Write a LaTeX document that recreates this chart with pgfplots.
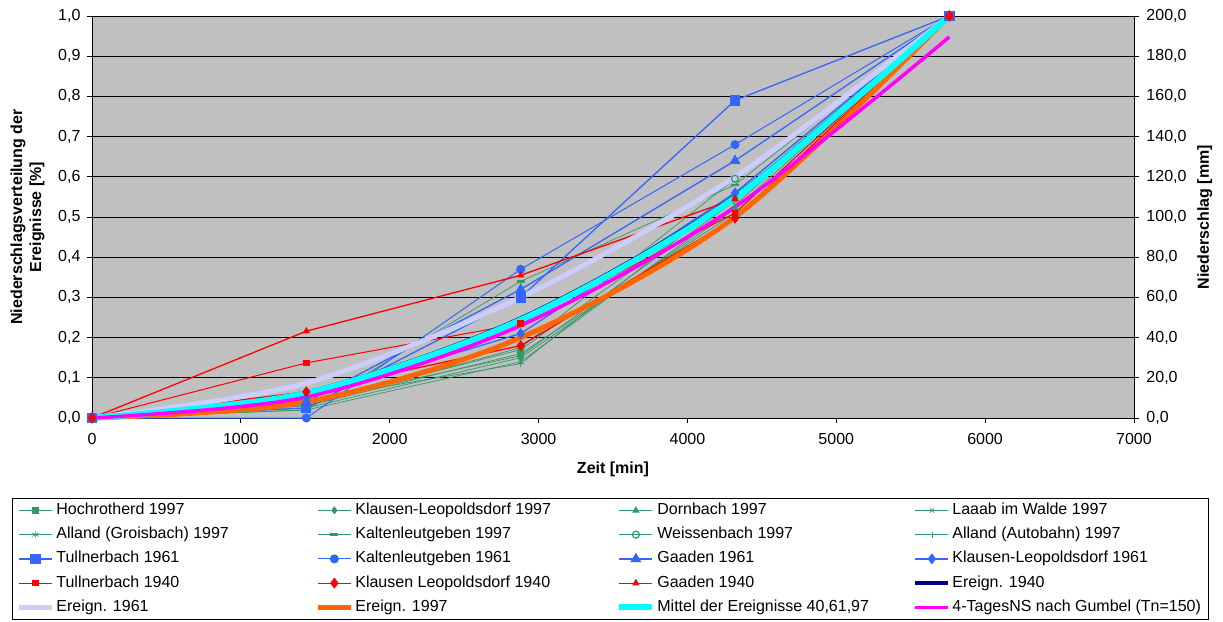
\documentclass[border=0pt]{standalone}
\usepackage{fontspec}
\setmainfont{Liberation Sans}
\usepackage{pgfplots}
\pgfplotsset{compat=1.18}
\definecolor{bg}{HTML}{C0C0C0}
\definecolor{sgreen}{HTML}{339966}
\definecolor{xblue}{HTML}{3366FF}
\definecolor{lav}{HTML}{CCCCFF}
\definecolor{xorange}{HTML}{FF6600}
\definecolor{xnavy}{HTML}{000080}
\definecolor{xcyan}{HTML}{00FFFF}
\definecolor{xmag}{HTML}{FF00FF}
\definecolor{xred}{HTML}{FF0000}
\newcommand\fs{\fontsize{16}{19}\selectfont}
\newcommand\Ca[1]{\makebox[257pt][l]{#1}}
\newcommand\Cb[1]{\makebox[259pt][l]{#1}}
\newcommand\Cc[1]{\makebox[254pt][l]{#1}}
\newcommand\Cd[1]{\makebox[250pt][l]{#1}}
\begin{document}
\begin{tikzpicture}
\path[use as bounding box] (-92pt,-203pt) rectangle (1131pt,418pt);
\begin{axis}[
  scale only axis, width=1042pt, height=402pt,
  xmin=0, xmax=7000, ymin=0, ymax=1,
  axis background/.style={fill=bg},
  axis x line*=bottom, axis y line*=left,
  axis line style={black, line width=0.8pt},
  xtick={0,1000,2000,3000,4000,5000,6000,7000},
  ytick={0,0.1,0.2,0.3,0.4,0.5,0.6,0.7,0.8,0.9,1.0},
  tick align=outside, major tick length=5pt,
  tick style={black, line width=0.8pt},
  ymajorgrids, grid style={black, line width=0.8pt},
  clip=false,
  tick label style={font=\fs},
  xticklabel style={/pgf/number format/.cd, 1000 sep={}, assume math mode=true, /tikz/.cd, yshift=-7pt},
  yticklabel style={/pgf/number format/.cd, fixed, fixed zerofill, precision=1, use comma, assume math mode=true, /tikz/.cd, xshift=-3pt},
  xlabel={Zeit [min]},
  xlabel style={font=\fs\bfseries, at={(axis description cs:0.5,-0.129)}, anchor=center},
  ylabel={Niederschlagsverteilung der\\Ereignisse [\%]},
  ylabel style={font=\fs\bfseries, align=center, at={(axis description cs:-0.062,0.5)}, anchor=center},
  legend columns=4,
  legend image code/.code={\draw[mark repeat=2,mark phase=2,#1] plot coordinates {(0pt,0pt) (16.5pt,0pt) (33pt,0pt)};},
  legend style={at={(axis description cs:-0.0768,-0.199)}, anchor=north west,
    draw=black, line width=0.8pt, fill=white, inner xsep=4pt, inner ysep=2pt,
    row sep=4.25pt, column sep=0pt, font=\fs,
    nodes={inner sep=2pt, text height=12pt, text depth=4pt}},
  legend cell align=left,
]
% 1997 green
\addplot[sgreen, line width=0.7pt, mark=square*, mark size=3pt] coordinates {(0,0) (1440,0.03) (2880,0.16) (4320,0.51) (5760,1)};
\addlegendentry{\Ca{Hochrotherd 1997}}
\addplot[sgreen, line width=0.7pt, mark=diamond*, mark size=3.5pt] coordinates {(0,0) (1440,0.025) (2880,0.15) (4320,0.52) (5760,1)};
\addlegendentry{\Cb{Klausen-Leopoldsdorf 1997}}
\addplot[sgreen, line width=0.7pt, mark=triangle*, mark size=3.5pt] coordinates {(0,0) (1440,0.035) (2880,0.17) (4320,0.55) (5760,1)};
\addlegendentry{\Cc{Dornbach 1997}}
\addplot[sgreen, line width=0.7pt, mark=x, mark size=3pt] coordinates {(0,0) (1440,0.02) (2880,0.14) (4320,0.53) (5760,1)};
\addlegendentry{\Cd{Laaab im Walde 1997}}
\addplot[sgreen, line width=0.7pt, mark=asterisk, mark size=3.5pt] coordinates {(0,0) (1440,0.04) (2880,0.155) (4320,0.54) (5760,1)};
\addlegendentry{\Ca{Alland (Groisbach) 1997}}
\addplot[sgreen, line width=0.7pt, mark=-, mark size=4pt, mark options={line width=2.5pt}] coordinates {(0,0) (1440,0.02) (2880,0.34) (4320,0.58) (5760,1)};
\addlegendentry{\Cb{Kaltenleutgeben 1997}}
\addplot[sgreen, line width=0.7pt, mark=o, mark size=3.5pt, mark options={line width=1.2pt}] coordinates {(0,0) (1440,0.03) (2880,0.175) (4320,0.595) (5760,1)};
\addlegendentry{\Cc{Weissenbach 1997}}
\addplot[sgreen, line width=0.7pt, mark=+, mark size=3pt] coordinates {(0,0) (1440,0.045) (2880,0.135) (4320,0.56) (5760,1)};
\addlegendentry{\Cd{Alland (Autobahn) 1997}}
% 1961 blue
\addplot[xblue, line width=1.3pt, mark=square*, mark size=4.5pt] coordinates {(0,0) (1440,0.025) (2880,0.30) (4320,0.79) (5760,1)};
\addlegendentry{\Ca{Tullnerbach 1961}}
\addplot[xblue, line width=1pt, mark=*, mark size=4pt] coordinates {(0,0) (1440,0.0) (2880,0.37) (4320,0.68) (5760,1)};
\addlegendentry{\Cb{Kaltenleutgeben 1961}}
\addplot[xblue, line width=1.3pt, mark=triangle*, mark size=5pt] coordinates {(0,0) (1440,0.04) (2880,0.32) (4320,0.64) (5760,1)};
\addlegendentry{\Cc{Gaaden 1961}}
\addplot[xblue, line width=1.3pt, mark=diamond*, mark size=4.5pt] coordinates {(0,0) (1440,0.05) (2880,0.21) (4320,0.56) (5760,1)};
\addlegendentry{\Cd{Klausen-Leopoldsdorf 1961}}
% 1940 red
\addplot[xred, line width=1pt, mark=square*, mark size=2.8pt] coordinates {(0,0) (1440,0.137) (2880,0.235) (4320,0.51) (5760,1)};
\addlegendentry{\Ca{Tullnerbach 1940}}
\addplot[xred, line width=1.3pt, mark=diamond*, mark size=4.5pt] coordinates {(0,0) (1440,0.065) (2880,0.18) (4320,0.497) (5760,1)};
\addlegendentry{\Cb{Klausen Leopoldsdorf 1940}}
\addplot[xred, line width=1.3pt, mark=triangle*, mark size=3pt] coordinates {(0,0) (1440,0.216) (2880,0.355) (4320,0.545) (5760,1)};
\addlegendentry{\Cc{Gaaden 1940}}
% events
\addplot[xnavy, line width=4pt, smooth] coordinates {(0,0) (1440,0.064) (2880,0.248) (4320,0.552) (5760,1)};
\addlegendentry{\Cd{Ereign. 1940}}
\addplot[lav, line width=5pt, smooth] coordinates {(0,0) (1440,0.087) (2880,0.30) (4320,0.60) (5760,1)};
\addlegendentry{\Ca{Ereign. 1961}}
\addplot[xorange, line width=5pt, smooth] coordinates {(0,0) (1440,0.04) (2880,0.20) (4320,0.50) (5760,1)};
\addlegendentry{\Cb{Ereign. 1997}}
\addplot[xcyan, line width=6pt, smooth] coordinates {(0,0) (1440,0.062) (2880,0.244) (4320,0.548) (5760,1)};
\addlegendentry{\Cc{Mittel der Ereignisse 40,61,97}}
\addplot[xmag, line width=3.5pt, smooth] coordinates {(0,0) (1440,0.052) (2880,0.23) (4320,0.525) (5760,0.948)};
\addlegendentry{\Cd{4-TagesNS nach Gumbel (Tn=150)}}
\end{axis}
\begin{axis}[
  scale only axis, width=1042pt, height=402pt,
  xmin=0, xmax=7000, ymin=0, ymax=200,
  axis x line=none, axis y line*=right,
  axis line style={black, line width=0.8pt},
  ytick={0,20,40,60,80,100,120,140,160,180,200},
  tick align=outside, major tick length=5pt,
  tick style={black, line width=0.8pt},
  tick label style={font=\fs},
  yticklabel style={/pgf/number format/.cd, fixed, fixed zerofill, precision=1, use comma, assume math mode=true, /tikz/.cd, xshift=4pt},
  ylabel={Niederschlag [mm]},
  ylabel style={font=\fs\bfseries, at={(axis description cs:1.068,0.5)}, anchor=center},
]
\addplot[draw=none] coordinates {(0,0)};
\end{axis}
\end{tikzpicture}
\end{document}
